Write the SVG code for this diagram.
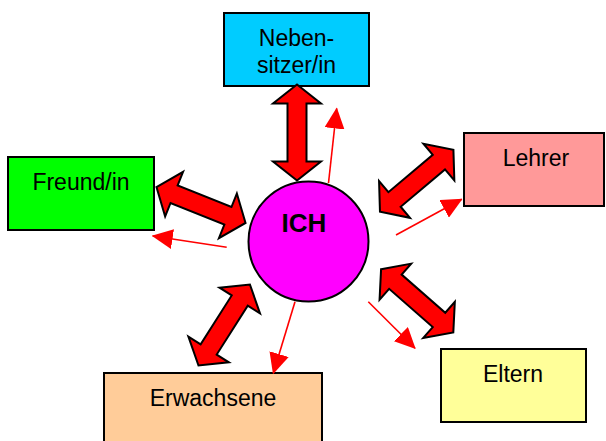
<svg xmlns="http://www.w3.org/2000/svg" width="606" height="441" viewBox="0 0 606 441">
  <style>
    .box { stroke: #000; stroke-width: 2; }
    .lbl { font-family: "Liberation Sans", Arial, sans-serif; font-size: 23px; fill: #000; text-anchor: middle; }
    .dbl { fill: #FF0000; stroke: #000; stroke-width: 2; stroke-linejoin: miter; }
    .thin { stroke: #FF0000; stroke-width: 1.6; fill: none; marker-end: url(#tri); }
  </style>
  <defs>
    <marker id="tri" viewBox="0 0 21 20" refX="20" refY="10" markerWidth="21" markerHeight="20" markerUnits="userSpaceOnUse" orient="auto">
      <path d="M0,0 L21,10 L0,20 Z" fill="#FF0000"/>
    </marker>
    <path id="dblarrow" d="M-48,0 L-29,-24 L-29,-9.5 L29,-9.5 L29,-24 L48,0 L29,24 L29,9.5 L-29,9.5 L-29,24 Z"/>
  </defs>
  <rect width="606" height="441" fill="#FFFFFF"/>

  <g id="nebensitzer">
    <rect class="box" x="224" y="13" width="145" height="73" fill="#00CCFF"/>
    <text class="lbl" x="296.5" y="46">Neben-</text>
    <text class="lbl" x="296.5" y="73">sitzer/in</text>
  </g>
  <g id="freund">
    <rect class="box" x="8" y="157" width="146" height="73" fill="#00FF00"/>
    <text class="lbl" x="81" y="190">Freund/in</text>
  </g>
  <g id="lehrer">
    <rect class="box" x="464" y="133" width="140" height="73" fill="#FF9999"/>
    <text class="lbl" x="536" y="166">Lehrer</text>
  </g>
  <g id="eltern">
    <rect class="box" x="441" y="349" width="145" height="73" fill="#FFFF99"/>
    <text class="lbl" x="513" y="382">Eltern</text>
  </g>
  <g id="erwachsene">
    <rect class="box" x="104" y="373" width="218" height="75" fill="#FFCC99"/>
    <text class="lbl" x="213" y="406">Erwachsene</text>
  </g>

  <g id="connectors">
    <use href="#dblarrow" class="dbl" transform="translate(297,132.5) rotate(90)"/>
    <use href="#dblarrow" class="dbl" transform="translate(201,205) rotate(21.9)"/>
    <use href="#dblarrow" class="dbl" transform="translate(416.7,180.8) rotate(-40.1)"/>
    <use href="#dblarrow" class="dbl" transform="translate(417.2,300.8) rotate(41.2)"/>
    <use href="#dblarrow" class="dbl" transform="translate(224.2,325) rotate(-57.6)"/>

    <line class="thin" x1="328.5" y1="183" x2="336.7" y2="108.5"/>
    <line class="thin" x1="226.7" y1="247.3" x2="152.7" y2="236"/>
    <line class="thin" x1="396" y1="235" x2="461.7" y2="199.3"/>
    <line class="thin" x1="368.3" y1="301.7" x2="415" y2="348.3"/>
    <line class="thin" x1="295" y1="301.7" x2="273.3" y2="373.3"/>
  </g>

  <g id="ich">
    <circle cx="308.5" cy="241.5" r="60" fill="#FF00FF" stroke="#000" stroke-width="2"/>
    <text x="304" y="232" font-family="'Liberation Sans', Arial, sans-serif" font-size="26" font-weight="bold" text-anchor="middle" fill="#000">ICH</text>
  </g>
</svg>
